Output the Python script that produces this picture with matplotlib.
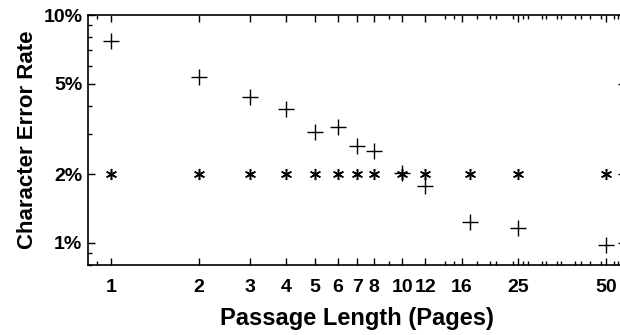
import matplotlib
matplotlib.use("Agg")
import matplotlib.pyplot as plt
import matplotlib.ticker as ticker

# data
pages = [1, 2, 3, 4, 5, 6, 7, 8, 10, 12, 17, 25, 50]
err_plus = [7.7, 5.36, 4.35, 3.86, 3.08, 3.24, 2.67, 2.53, 2.03, 1.77, 1.24, 1.16, 0.98]
err_star = [2.0] * len(pages)

xtick_vals = [1, 2, 3, 4, 5, 6, 7, 8, 10, 12, 16, 25, 50]
xtick_labels = ["1", "2", "3", "4", "5", "6", "7", "8", "10", "12", "16", "25", "50"]
xminor_vals = [0.9, 9, 14, 15, 18, 20, 21, 24, 26, 27, 30, 31, 34, 35, 39, 41, 44, 48, 53, 55]
ytick_vals = [1, 2, 5, 10]
ytick_labels = ["1%", "2%", "5%", "10%"]

plt.rcParams["font.family"] = ["Liberation Sans", "DejaVu Sans"]
plt.rcParams["font.weight"] = "bold"

fig = plt.figure(figsize=(6.2, 3.35), dpi=100)
ax = fig.add_axes([88 / 620, 70 / 335, 537 / 620, 250 / 335])

ax.plot(pages, err_star, linestyle="none", marker=(6, 2, 0), markersize=8,
        markeredgewidth=1.1, color="black")
ax.plot(pages, err_plus, linestyle="none", marker="+", markersize=12,
        markeredgewidth=1.0, color="black")

ax.set_xscale("log")
ax.set_yscale("log")
ax.set_xlim(0.835, 58)
ax.set_ylim(0.80, 10)

ax.xaxis.set_major_locator(ticker.FixedLocator(xtick_vals))
ax.xaxis.set_major_formatter(ticker.FixedFormatter(xtick_labels))
ax.xaxis.set_minor_locator(ticker.FixedLocator(xminor_vals))
ax.xaxis.set_minor_formatter(ticker.NullFormatter())
ax.yaxis.set_major_locator(ticker.FixedLocator(ytick_vals))
ax.yaxis.set_major_formatter(ticker.FixedFormatter(ytick_labels))
ax.yaxis.set_minor_locator(ticker.LogLocator(base=10, subs=range(2, 10)))
ax.yaxis.set_minor_formatter(ticker.NullFormatter())

ax.tick_params(which="both", direction="in", top=True, right=True,
               width=1.0, colors="black")
ax.tick_params(which="major", length=5, labelsize=14)
ax.tick_params(axis="x", which="major", pad=10)
ax.tick_params(axis="y", which="major", pad=4)
ax.tick_params(which="minor", length=3)
for lbl in ax.get_xticklabels() + ax.get_yticklabels():
    lbl.set_fontweight("bold")

for s in ax.spines.values():
    s.set_linewidth(1.2)

ax.set_xlabel("Passage Length (Pages)", fontsize=17, fontweight="bold", labelpad=8)
ax.set_ylabel("Character Error Rate", fontsize=16, fontweight="bold", labelpad=4)

fig.savefig("out.png", dpi=100)
